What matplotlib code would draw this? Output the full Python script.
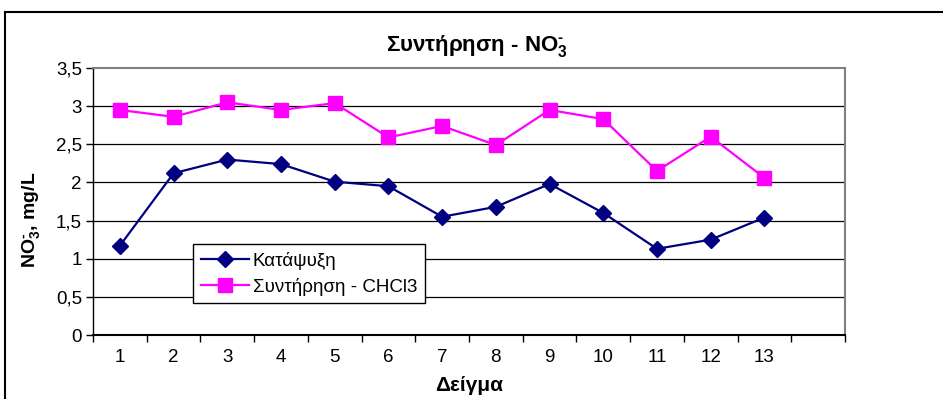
import numpy as np
import matplotlib
matplotlib.use("Agg")
import matplotlib.pyplot as plt
from matplotlib.lines import Line2D

plt.rcParams['font.family'] = ['Liberation Sans', 'DejaVu Sans']
plt.rcParams['mathtext.fontset'] = 'custom'
plt.rcParams['mathtext.rm'] = 'Liberation Sans:bold'
plt.rcParams['mathtext.default'] = 'rm'

samples = ["1", "2", "3", "4", "5", "6", "7", "8", "9", "10", "11", "12", "13"]
freezing = [1.17, 2.12, 2.30, 2.24, 2.01, 1.95, 1.55, 1.68, 1.98, 1.60, 1.13, 1.25, 1.54]
chcl3 = [2.95, 2.86, 3.05, 2.95, 3.04, 2.59, 2.74, 2.49, 2.95, 2.83, 2.15, 2.60, 2.06]
y_ticks = [0, 0.5, 1, 1.5, 2, 2.5, 3, 3.5]
y_tick_labels = ["0", "0,5", "1", "1,5", "2", "2,5", "3", "3,5"]

fig = plt.figure(figsize=(9.43, 3.99), dpi=100)
ax = fig.add_axes([93 / 943, 64 / 399, 752 / 943, 267 / 399])

x = np.arange(len(samples))
ax.plot(x, freezing, color='#000080', lw=1.6, marker='D', ms=8.5,
        mec='#000080', mfc='#000080', label='Κατάψυξη', zorder=3)
ax.plot(x, chcl3, color='#FF00FF', lw=1.6, marker='s', ms=9.5,
        mec='#FF00FF', mfc='#FF00FF', label='Συντήρηση - CHCl3', zorder=3)

# one empty category slot after the last sample
ax.set_xlim(-0.5, len(samples) + 0.5)
ax.set_ylim(0, 3.5)
ax.set_xticks(x)
ax.set_xticklabels(samples, fontsize=13.5)
ax.set_xticks(np.arange(-0.5, len(samples) + 1, 1), minor=True)
ax.tick_params(axis='x', which='major', length=0, pad=10)
ax.tick_params(axis='x', which='minor', length=5, width=1, direction='out')
ax.set_yticks(y_ticks)
ax.set_yticklabels(y_tick_labels, fontsize=13.5)
ax.tick_params(axis='y', length=5, width=1, direction='out', pad=3)

for v in y_ticks[1:-1]:
    ax.axhline(v, color='black', lw=0.9, zorder=1)

for side in ['top', 'right']:
    ax.spines[side].set_color('#808080')
    ax.spines[side].set_linewidth(1.5)
ax.spines['bottom'].set_linewidth(1.5)
ax.spines['left'].set_linewidth(1.0)

ax.set_title(r"Συντήρηση - NO$_3^{\text{-}}$", fontsize=16, fontweight='bold', pad=12, x=0.51)
ax.set_xlabel("Δείγμα", fontsize=15, fontweight='bold', labelpad=0)
ax.xaxis.set_label_coords(0.5, -0.155)
ax.set_ylabel(r"NO$_3^{\text{-}}$, mg/L", fontsize=14, fontweight='bold')
ax.yaxis.set_label_coords(-0.068, 0.43)

leg = ax.legend(loc='upper left', bbox_to_anchor=(100 / 752, 1 - 176 / 267),
                fontsize=13.5, frameon=True, fancybox=False, framealpha=1,
                edgecolor='black', borderpad=0.4, labelspacing=0.45,
                handlelength=2.6, handletextpad=0.2, borderaxespad=0)
leg.get_frame().set_linewidth(1.0)

# outer chart border
fig.add_artist(Line2D([5 / 943, 5 / 943], [0, 1 - 12 / 399], color='black', lw=1.5))
fig.add_artist(Line2D([5 / 943, 1], [1 - 12 / 399, 1 - 12 / 399], color='black', lw=1.5))

fig.savefig("out.png", dpi=100)
